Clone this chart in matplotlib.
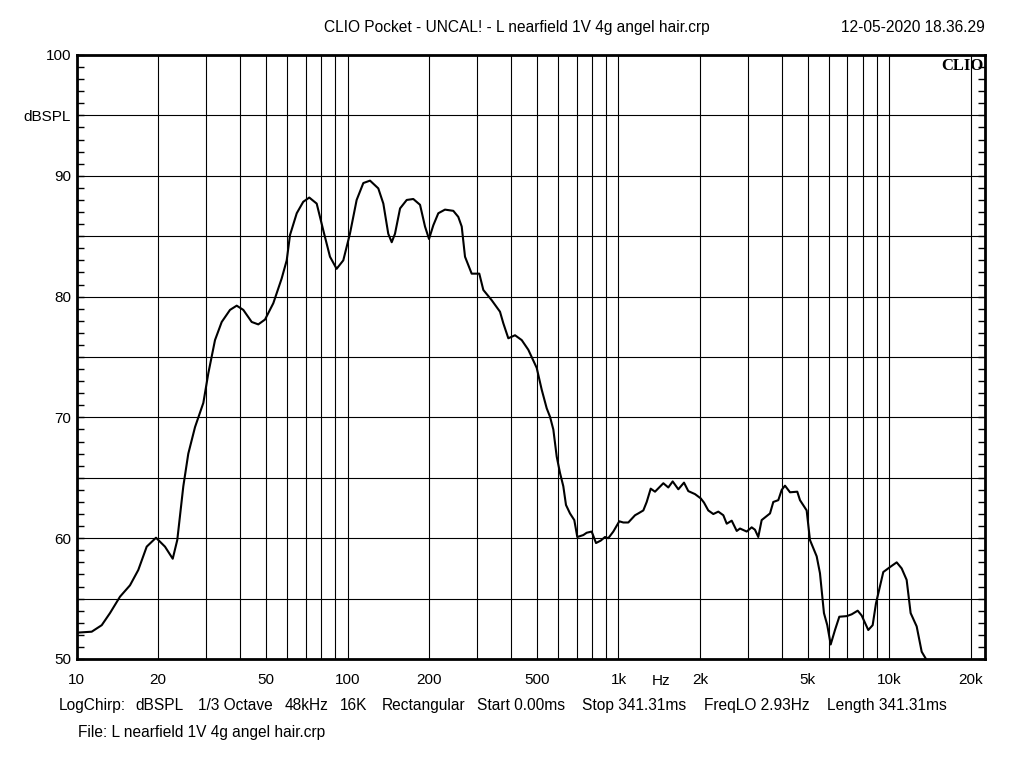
import matplotlib
matplotlib.use("Agg")
import matplotlib.pyplot as plt
from matplotlib.ticker import MultipleLocator, NullLocator

# ---------------------------------------------------------
# Data
# ---------------------------------------------------------
freq_hz = [
    10, 11.36, 12.37, 13.27, 14.45, 15.73, 16.88, 18.13, 19.62, 21.18,
    22.62, 23.51, 24.75, 25.82, 27.34, 29.34, 30.61, 32.40, 34.30, 36.81,
    38.96, 41.21, 44.26, 46.81, 49.56, 53.18, 57.10, 59.6, 61.3, 64.9,
    68.6, 72.2, 76.9, 81.3, 86.1, 91.1, 96.4, 102, 108, 114.3,
    121, 129.8, 135.5, 141.3, 145.5, 149.6, 156.2, 165.3, 174.8, 185.1,
    193.1, 199.8, 207.2, 216.2, 228.8, 245.6, 256.2, 263.8, 271.3, 287.1,
    306.3, 317, 340.4, 365.2, 375.6, 392, 415, 439.3, 464.6, 499,
    520.6, 543.3, 558.8, 574.7, 591.5, 608.3, 625.6, 640, 662.2, 686.8,
    704.6, 741.5, 763, 796.2, 826, 859.7, 891.7, 917, 957, 1007,
    1041.6, 1087, 1151, 1183, 1235, 1271, 1315, 1364, 1464, 1527,
    1585, 1663, 1745, 1810, 1916, 2011, 2068, 2145, 2239, 2336,
    2438, 2509, 2618, 2732, 2809, 2974, 3102, 3190, 3281, 3377,
    3625, 3728, 3890, 4004, 4117, 4297, 4571, 4677, 4950, 5091,
    5390, 5543, 5734, 5898, 6071, 6298, 6534, 6957, 7259, 7638,
    7901, 8357, 8675, 8922, 9495, 10110, 10640, 11100, 11580, 11980,
    12610, 13160, 13650,
]
spl_db = [
    52.18, 52.26, 52.8, 53.8, 55.16, 56.1, 57.37, 59.3, 60.04, 59.3,
    58.3, 59.85, 64.3, 67.0, 69.2, 71.2, 73.65, 76.4, 77.9, 78.9,
    79.25, 78.9, 77.9, 77.7, 78.1, 79.45, 81.5, 83.0, 85.1, 86.9,
    87.85, 88.2, 87.7, 85.5, 83.3, 82.3, 83.0, 85.2, 88.0, 89.4,
    89.6, 88.96, 87.7, 85.2, 84.5, 85.2, 87.3, 88.0, 88.08, 87.6,
    85.8, 84.77, 85.9, 86.9, 87.2, 87.1, 86.6, 85.8, 83.3, 81.9,
    81.9, 80.55, 79.7, 78.75, 77.8, 76.55, 76.8, 76.4, 75.6, 74.1,
    72.3, 70.75, 70.05, 69.0, 66.75, 65.4, 64.3, 62.75, 62.05, 61.5,
    60.1, 60.26, 60.45, 60.55, 59.6, 59.8, 60.1, 60.0, 60.55, 61.4,
    61.3, 61.3, 61.9, 62.05, 62.3, 63.0, 64.1, 63.85, 64.55, 64.2,
    64.7, 64.05, 64.6, 63.9, 63.65, 63.3, 62.95, 62.3, 62.0, 62.2,
    61.9, 61.2, 61.45, 60.6, 60.8, 60.55, 60.9, 60.7, 60.1, 61.5,
    62.05, 63.0, 63.15, 64.0, 64.35, 63.8, 63.85, 63.15, 62.3, 59.85,
    58.5, 57.1, 53.8, 52.8, 51.2, 52.4, 53.5, 53.55, 53.7, 54.0,
    53.6, 52.4, 52.8, 54.6, 57.2, 57.65, 58.0, 57.5, 56.55, 53.8,
    52.7, 50.6, 50.0,
]

grid_freqs = [m * 10 ** e for e in range(1, 4) for m in range(1, 10)] + [10000, 20000]
labelled = {10: "10", 20: "20", 50: "50", 100: "100", 200: "200", 500: "500",
            1000: "1k", 2000: "2k", 5000: "5k", 10000: "10k", 20000: "20k"}
x_labels = [labelled.get(f, "") for f in grid_freqs]

y_ticks = list(range(50, 101, 5))
y_labels = ["50", "", "60", "", "70", "", "80", "", "90", "dBSPL", "100"]

title = "CLIO Pocket - UNCAL! - L nearfield 1V 4g angel hair.crp"
stamp = "12-05-2020 18.36.29"
settings = ["LogChirp:", "dBSPL", "1/3 Octave", "48kHz", "16K", "Rectangular",
            "Start 0.00ms", "Stop 341.31ms", "FreqLO 2.93Hz", "Length 341.31ms"]
settings_x = [59, 135, 198, 285, 340, 382, 477, 582, 704, 827]
file_line = "File: L nearfield 1V 4g angel hair.crp"

# ---------------------------------------------------------
# Plot
# ---------------------------------------------------------
plt.rcParams["font.family"] = ["Liberation Sans", "DejaVu Sans"]
plt.rcParams["font.size"] = 11

fig = plt.figure(figsize=(10.24, 7.68), dpi=100)
ax = fig.add_axes([76.7 / 1024, 1 - 659 / 768, (985 - 76.7) / 1024, (659 - 55) / 768])

ax.plot(freq_hz, spl_db, color="black", lw=1.5, zorder=3)

ax.set_xscale("log")
ax.xaxis.set_minor_locator(NullLocator())
ax.set_xticks(grid_freqs)
ax.set_xticklabels(x_labels)
ax.tick_params(axis="x", length=0, pad=10, labelsize=11)

ax.set_yticks(y_ticks)
ax.set_yticklabels(y_labels)
ax.yaxis.set_minor_locator(MultipleLocator(1))
ax.tick_params(axis="y", which="both", direction="in", length=5, width=1,
               left=True, right=True, pad=4, labelsize=11)

ax.set_xlim(10, 22540)
ax.set_ylim(50, 100)

ax.grid(True, which="major", color="black", lw=0.8)
for s in ax.spines.values():
    s.set_linewidth(2)

ax.text(1436, -0.0245, "Hz", transform=ax.get_xaxis_transform(),
        ha="center", va="top", fontsize=11)
ax.text(0.998, 0.995, "CLIO", transform=ax.transAxes, ha="right", va="top",
        fontsize=12, fontweight="bold", family="Liberation Serif")

fig.text(517 / 1024, 1 - 32 / 768, title, ha="center", va="baseline", fontsize=11.2)
fig.text(985 / 1024, 1 - 32 / 768, stamp, ha="right", va="baseline", fontsize=11.2)
for label, x in zip(settings, settings_x):
    fig.text(x / 1024, 1 - 710 / 768, label, ha="left", va="baseline", fontsize=11.2)
fig.text(78 / 1024, 1 - 737 / 768, file_line, ha="left", va="baseline", fontsize=11.2)

fig.savefig("out.png", dpi=100)
